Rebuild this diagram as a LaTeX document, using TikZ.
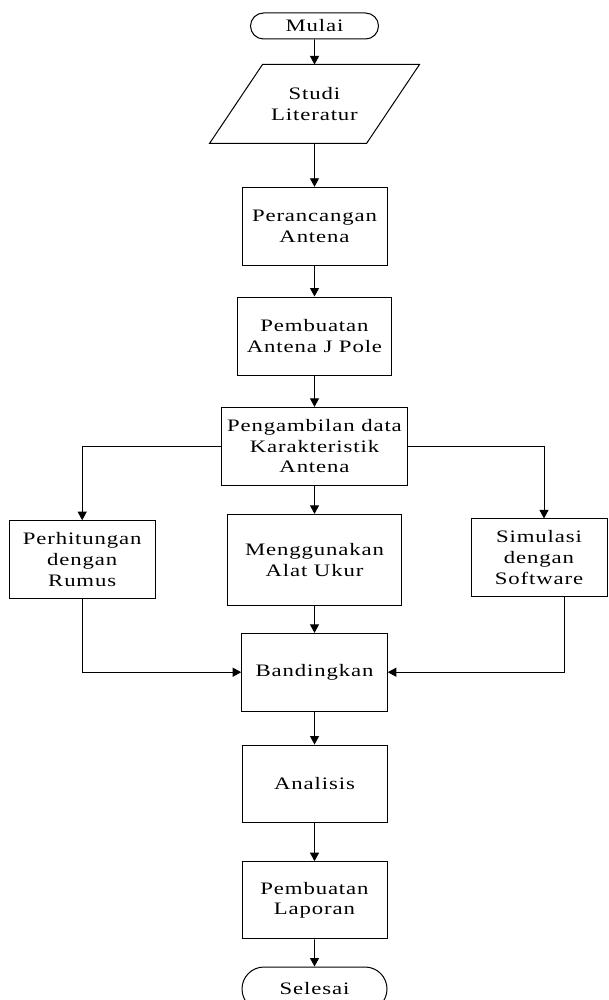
\documentclass[tikz,border=0pt]{standalone}
\usepackage{fontspec}
\setmainfont{Liberation Serif}[FakeStretch=1.3,LetterSpace=5]
\usetikzlibrary{arrows.meta,shapes.misc}
\begin{document}
\begin{tikzpicture}[x=1pt,y=-1pt,
  box/.style={draw, line width=1pt, align=center, inner sep=0pt, font=\fontsize{17.5}{20.8}\selectfont},
  term/.style={box, rounded rectangle},
  arr/.style={line width=0.9pt, -{Triangle[length=8.5pt,width=9pt]}},
  ln/.style={line width=0.9pt}]
\useasboundingbox (0,0) rectangle (608,1000);
\clip (0,0) rectangle (608,1000);
\node[term, minimum width=128, minimum height=26] (mulai) at (314.5,26) {Mulai};
\node[box, draw=none, minimum width=156, minimum height=78] (studi) at (314.5,104) {Studi\\Literatur};
\draw[line width=1pt] ([xshift=26.5]studi.north west) -- ([xshift=26.5]studi.north east) -- ([xshift=-26.5]studi.south east) -- ([xshift=-26.5]studi.south west) -- cycle;
\node[box, minimum width=145, minimum height=78.4] (peran) at (314.5,226.5) {Perancangan\\Antena};
\node[box, minimum width=154.7, minimum height=78] (pemb) at (314.5,336) {Pembuatan\\Antena J Pole};
\node[box, minimum width=186.6, minimum height=77.7] (ambil) at (314.5,446.2) {Pengambilan data\\Karakteristik\\Antena};
\node[box, minimum width=145.7, minimum height=77.6] (hitung) at (82.2,559.5) {Perhitungan\\dengan\\Rumus};
\node[box, minimum width=174.4, minimum height=90.7] (ukur) at (314.5,559.7) {Menggunakan\\Alat Ukur};
\node[box, minimum width=136, minimum height=77.7] (simul) at (539,557.8) {Simulasi\\dengan\\Software};
\node[box, minimum width=145.6, minimum height=77.7] (banding) at (314.5,672.2) {Bandingkan};
\node[box, minimum width=145, minimum height=77.3] (anal) at (314.5,783.7) {Analisis};
\node[box, minimum width=145, minimum height=77.3] (lapor) at (314.5,900.3) {Pembuatan\\Laporan};
\node[term, minimum width=145, minimum height=44] (selesai) at (314.5,989) {Selesai};
\draw[arr] (mulai) -- (studi);
\draw[arr] (studi) -- (peran);
\draw[arr] (peran) -- (pemb);
\draw[arr] (pemb) -- (ambil);
\draw[arr] (ambil) -- (ukur);
\draw[arr] (ambil.west) -| (hitung.north);
\draw[arr] (ambil.east) -| ([xshift=5]simul.north);
\draw[arr] (ukur) -- (banding);
\draw[arr] (hitung.south) |- (banding.west);
\draw[arr] ([xshift=25]simul.south) |- (banding.east);
\draw[arr] (banding) -- (anal);
\draw[arr] (anal) -- (lapor);
\draw[arr] (lapor) -- (selesai);
\end{tikzpicture}
\end{document}
